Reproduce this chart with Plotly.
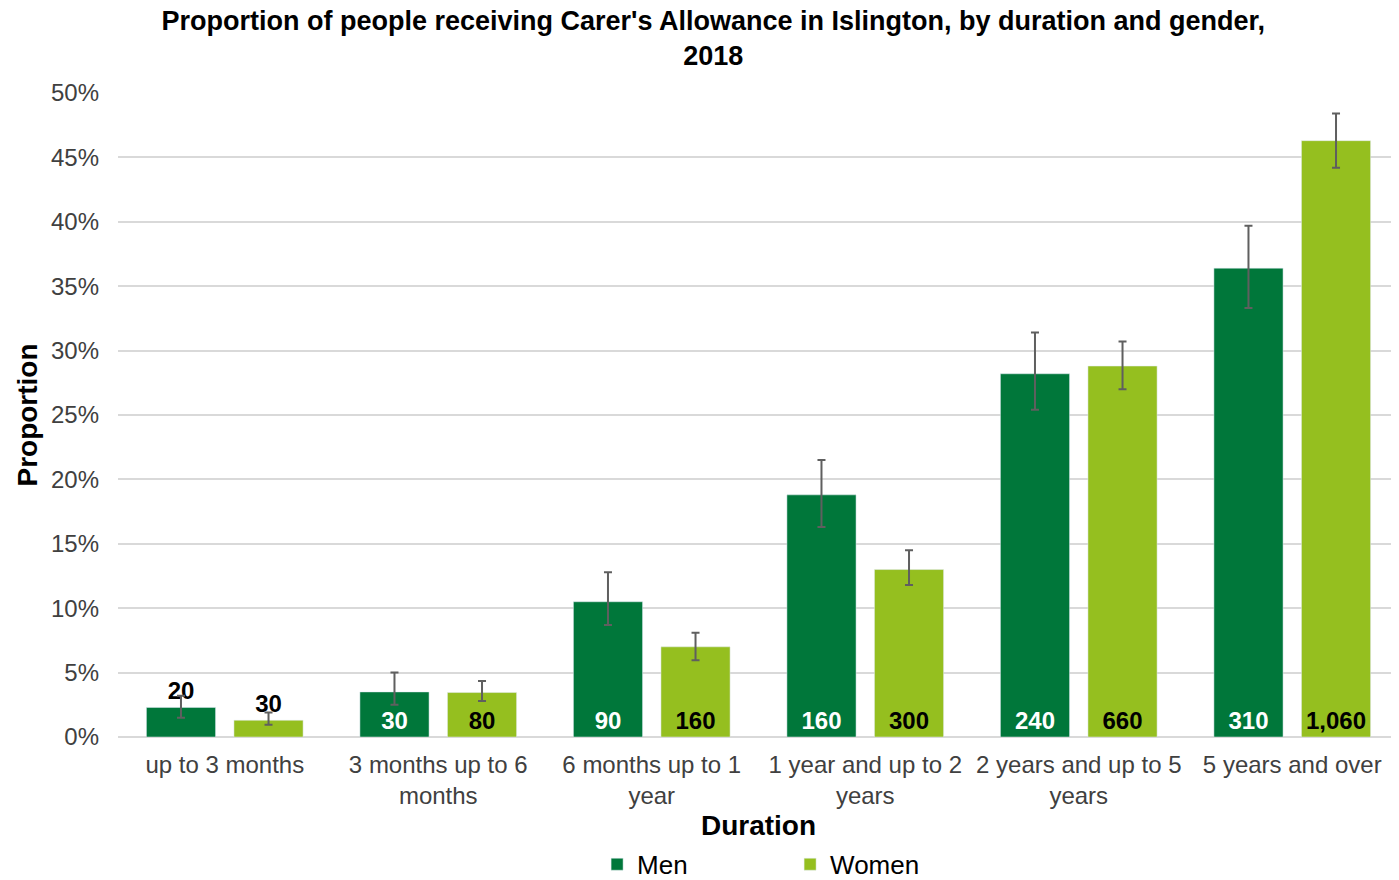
import plotly.graph_objects as go

categories = ["up to 3 months", "3 months up to 6<br>months", "6 months up to 1<br>year",
              "1 year and up to 2<br>years", "2 years and up to 5<br>years", "5 years and over"]

# proportions (%) and confidence interval bounds
men_pct = [2.3, 3.5, 10.5, 18.8, 28.2, 36.4]
men_lo = [1.5, 2.5, 8.7, 16.3, 25.4, 33.3]
men_hi = [3.2, 5.0, 12.8, 21.5, 31.4, 39.7]
women_pct = [1.3, 3.45, 7.0, 13.0, 28.8, 46.3]
women_lo = [0.95, 2.8, 5.95, 11.8, 27.0, 44.2]
women_hi = [1.9, 4.35, 8.1, 14.5, 30.7, 48.4]

men_count = ["20", "30", "90", "160", "240", "310"]
women_count = ["30", "80", "160", "300", "660", "1,060"]

FONT = "Liberation Sans, Arial, sans-serif"


def frac(vals):
    return [v / 100 for v in vals]


def err(pct, lo, hi):
    plus = [(h - p) / 100 for p, h in zip(pct, hi)]
    minus = [(p - l) / 100 for p, l in zip(pct, lo)]
    return dict(type="data", symmetric=False, array=plus, arrayminus=minus,
                color="#5f5f5f", thickness=2, width=4)


positions = ["outside"] + ["inside"] * 5

fig = go.Figure()
fig.add_trace(go.Bar(x=categories, y=frac(men_pct), name="Men",
                     marker=dict(color="#00773a"),
                     error_y=err(men_pct, men_lo, men_hi),
                     text=men_count, textposition=positions,
                     insidetextanchor="start", cliponaxis=False,
                     textfont=dict(family=FONT, size=24, weight="bold",
                                   color=["black"] + ["white"] * 5)))
fig.add_trace(go.Bar(x=categories, y=frac(women_pct), name="Women",
                     marker=dict(color="#95bf1f"),
                     error_y=err(women_pct, women_lo, women_hi),
                     text=women_count, textposition=positions,
                     insidetextanchor="start", cliponaxis=False,
                     textfont=dict(family=FONT, size=24, weight="bold",
                                   color="black")))

# page body has an 8px margin, so the figure is 8px smaller than the window
fig.update_layout(
    width=1391, height=872,
    paper_bgcolor="white", plot_bgcolor="white",
    font=dict(family=FONT, size=24, color="#404040"),
    title=dict(text="<b>Proportion of people receiving Carer's Allowance in Islington, by duration and gender,<br>2018</b>",
               x=0.507, xanchor="center", yref="container", y=0.975, yanchor="middle",
               font=dict(size=27, color="black")),
    margin=dict(l=110, r=0, t=85, b=143, autoexpand=False),
    bargap=0.18, bargroupgap=0.21,
    legend=dict(orientation="h", xref="paper", x=0.374, xanchor="left",
                yref="container", y=0.018, yanchor="middle",
                font=dict(size=26, color="black"), entrywidth=148,
                traceorder="normal"),
)
fig.update_yaxes(range=[0, 0.5], dtick=0.05, tickformat=".0%", automargin=False,
                 showgrid=True, gridcolor="#d9d9d9", gridwidth=2,
                 zeroline=True, zerolinecolor="#d9d9d9", zerolinewidth=2,
                 ticklabelstandoff=18,
                 title=dict(text="<b>Proportion</b>", font=dict(size=28, color="black"), standoff=5))
fig.update_xaxes(showline=False, ticks="", ticklabelstandoff=11, automargin=False,
                 title=dict(text="<b>Duration</b>", font=dict(size=28, color="black"), standoff=8))

fig.write_html("out.html")
